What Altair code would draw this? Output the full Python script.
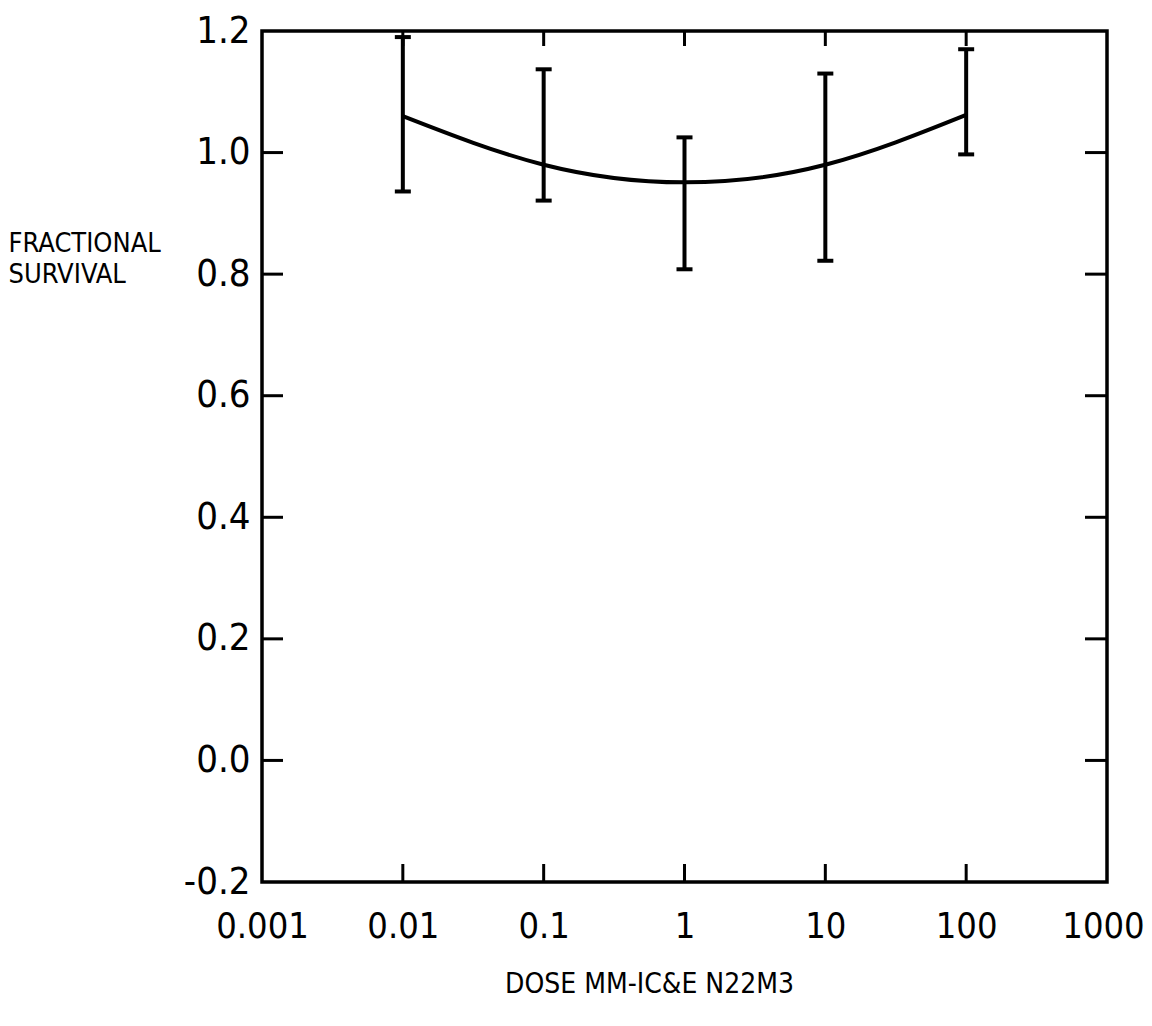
import altair as alt
import pandas as pd

# ---- data ----
dose = [0.01, 0.1, 1, 10, 100]
survival = [1.06, 0.98, 0.951, 0.98, 1.062]
upper = [1.19, 1.137, 1.025, 1.13, 1.17]
lower = [0.936, 0.921, 0.808, 0.822, 0.997]

x_ticks = [0.001, 0.01, 0.1, 1, 10, 100, 1000]
y_ticks = [-0.2, 0.0, 0.2, 0.4, 0.6, 0.8, 1.0, 1.2]
x_inner_ticks = [0.01, 0.1, 1, 10, 100]
y_inner_ticks = [0.0, 0.2, 0.4, 0.6, 0.8, 1.0]

W, H = 845, 851
FONT = "DejaVu Sans Condensed, Liberation Sans Narrow, DejaVu Sans"

df = pd.DataFrame({"dose": dose, "surv": survival, "hi": upper, "lo": lower})
dfx = pd.DataFrame({"t": x_inner_ticks})
dfy = pd.DataFrame({"t": y_inner_ticks})

xscale = alt.Scale(type="log", domain=[0.001, 1000], nice=False)
yscale = alt.Scale(domain=[-0.2, 1.2], nice=False, zero=False)

xaxis = alt.Axis(
    values=x_ticks, format="~g", grid=False, domain=False, ticks=False, tickSize=0,
    labelFont=FONT, labelFontSize=36, labelPadding=27, labelColor="black",
    labelFlush=False, labelOverlap=False,
    labelOffset={"condition": {"test": "datum.value >= 1000", "value": -4}, "value": 0},
    title="DOSE MM-IC&E N22M3", titleFont=FONT, titleFontSize=28,
    titleFontWeight="normal", titleColor="black", titleAlign="center",
    titleBaseline="top", titleX=387, titleY=88,
)
yaxis = alt.Axis(
    values=y_ticks, grid=False, domain=False, ticks=False, tickSize=0,
    labelExpr="datum.value < 0 ? '-' + format(-datum.value, '.1f') : format(datum.value, '.1f')",
    labelFont=FONT, labelFontSize=38, labelPadding=12, labelColor="black",
    labelFlush=False, labelOverlap=False,
    title=["FRACTIONAL", "SURVIVAL"], titleFont=FONT, titleFontSize=27,
    titleFontWeight="normal", titleColor="black", titleAngle=0, titleAlign="left",
    titleBaseline="top", titleX=-254, titleY=199, titleLineHeight=31,
)

base = alt.Chart(df)

curve = base.mark_line(color="black", strokeWidth=4, interpolate="natural").encode(
    x=alt.X("dose:Q", scale=xscale, axis=xaxis),
    y=alt.Y("surv:Q", scale=yscale, axis=yaxis),
)
bars = base.mark_rule(color="black", strokeWidth=4).encode(
    x=alt.X("dose:Q", scale=xscale), y=alt.Y("lo:Q", scale=yscale), y2="hi:Q"
)
cap_hi = base.mark_tick(color="black", orient="horizontal", size=16, thickness=4, opacity=1).encode(
    x=alt.X("dose:Q", scale=xscale), y=alt.Y("hi:Q", scale=yscale)
)
cap_lo = base.mark_tick(color="black", orient="horizontal", size=16, thickness=4, opacity=1).encode(
    x=alt.X("dose:Q", scale=xscale), y=alt.Y("lo:Q", scale=yscale)
)

# inward tick marks on all four sides
tick_left = alt.Chart(dfy).mark_rule(color="black", strokeWidth=3).encode(
    y=alt.Y("t:Q", scale=yscale), x=alt.value(0), x2=alt.value(21)
)
tick_right = alt.Chart(dfy).mark_rule(color="black", strokeWidth=3).encode(
    y=alt.Y("t:Q", scale=yscale), x=alt.value(W - 22), x2=alt.value(W)
)
tick_bottom = alt.Chart(dfx).mark_rule(color="black", strokeWidth=3).encode(
    x=alt.X("t:Q", scale=xscale), y=alt.value(H - 18), y2=alt.value(H)
)
tick_top = alt.Chart(dfx).mark_rule(color="black", strokeWidth=3).encode(
    x=alt.X("t:Q", scale=xscale), y=alt.value(0), y2=alt.value(15)
)

chart = alt.layer(
    curve, bars, cap_hi, cap_lo, tick_left, tick_right, tick_bottom, tick_top
).properties(
    width=W, height=H,
    autosize=alt.AutoSizeParams(type="none"),
    padding={"left": 254, "top": 23, "right": 37, "bottom": 125},
    background="white",
).configure_view(
    stroke="black", strokeWidth=3.5
)

chart.save("out.html", embed_options={"renderer": "svg", "actions": False})
